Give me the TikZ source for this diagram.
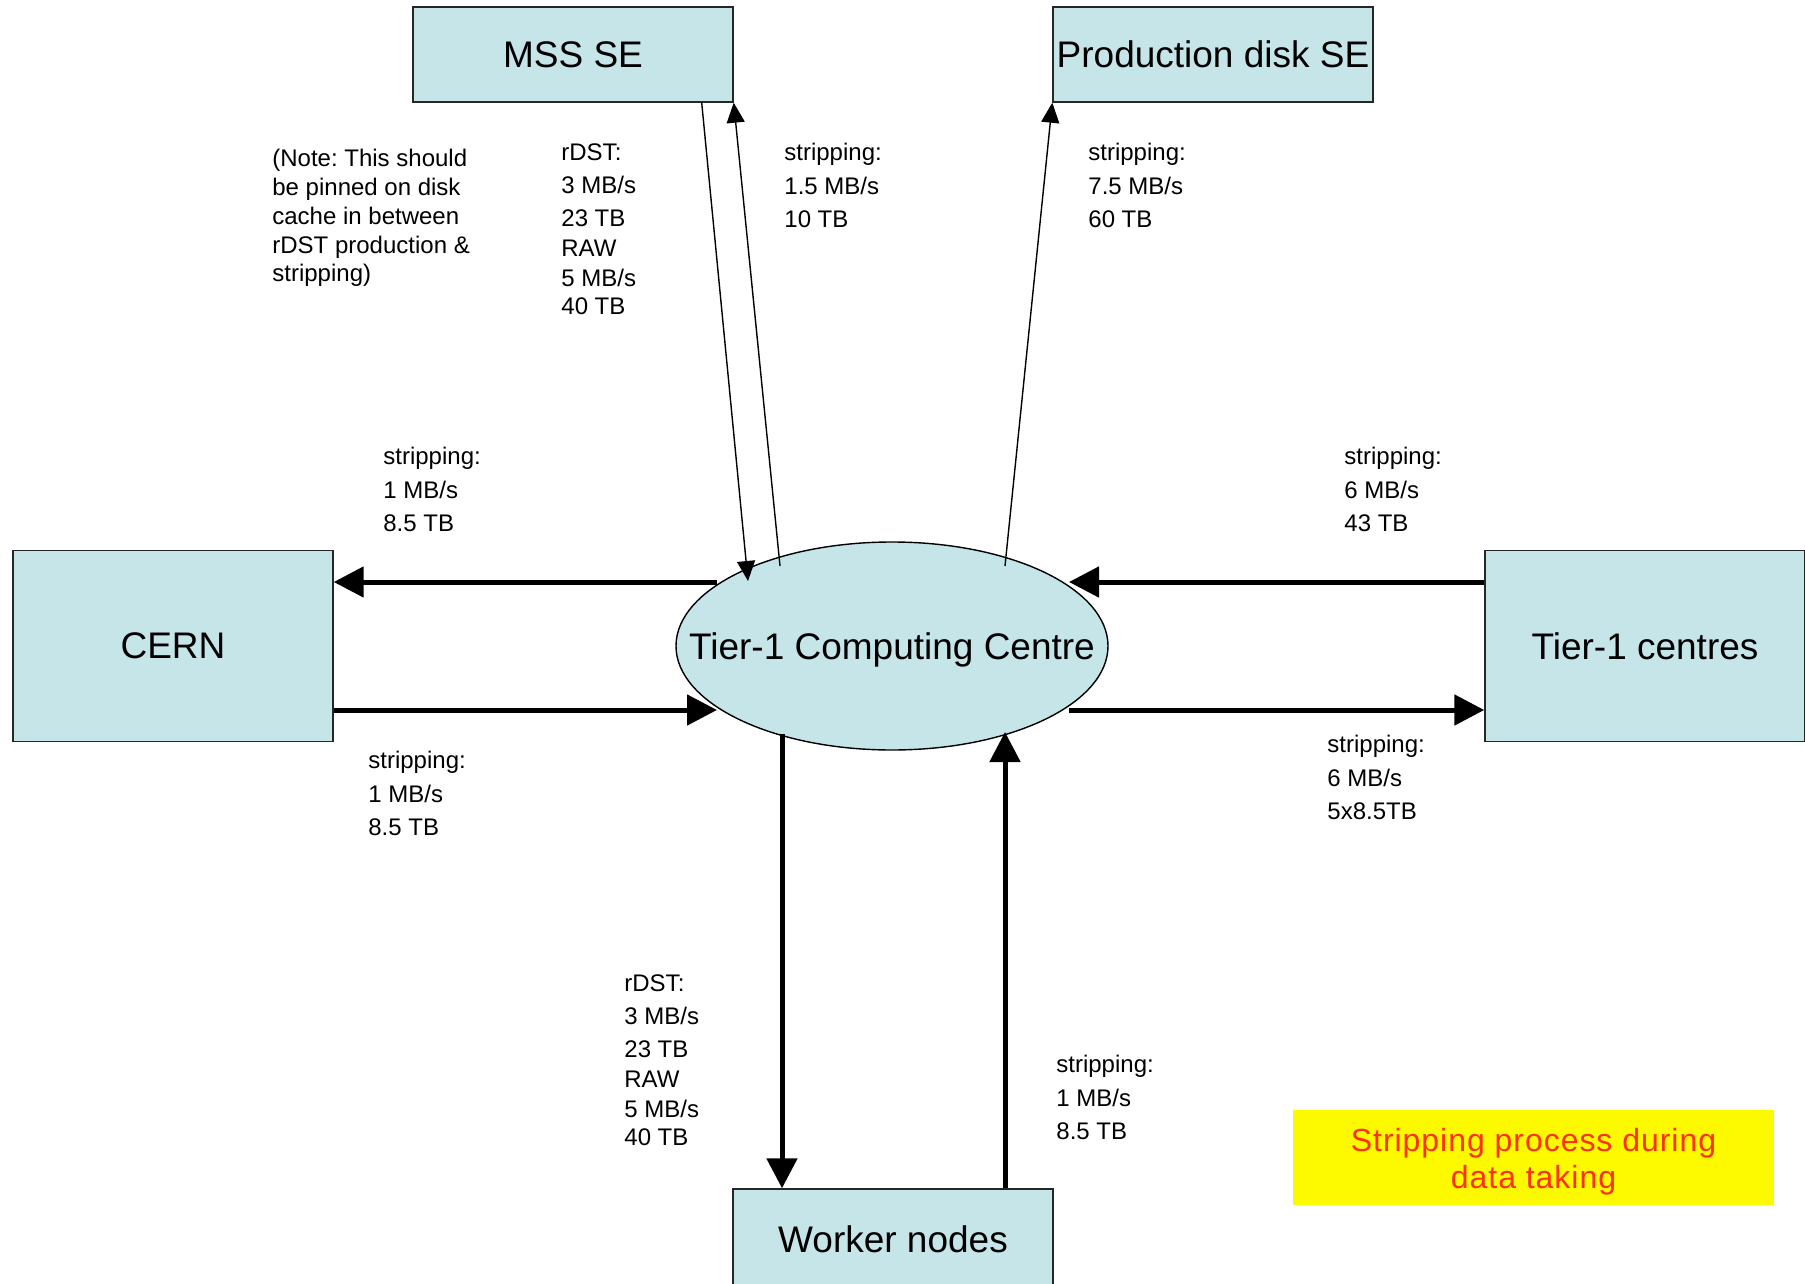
\documentclass[tikz,border=0pt]{standalone}
\usepackage{fontspec}
\setmainfont{Liberation Sans}
\newfontfamily\yfont[LetterSpace=3]{Liberation Sans}
\usetikzlibrary{arrows.meta,calc,shapes.geometric}
\definecolor{boxfill}{RGB}{198,229,233}
\definecolor{yel}{RGB}{253,250,0}
\definecolor{redtxt}{RGB}{252,50,10}
\frenchspacing
\begin{document}
\begin{tikzpicture}[x=0.5pt,y=-0.5pt,
 box/.style={draw=black!85,line width=0.7pt,fill=boxfill,rectangle,minimum width=160pt,minimum height=47.5pt,inner sep=0pt,font=\fontsize{18.5}{22}\selectfont},
 bigbox/.style={box,minimum height=95.5pt},
 ellnode/.style={ellipse,draw=black,line width=0.7pt,fill=boxfill,minimum width=216pt,minimum height=104pt,inner sep=0pt,font=\fontsize{18.5}{22}\selectfont},
 lbl/.style={anchor=north west,inner sep=0pt,align=left,font=\fontsize{12}{16.7}\selectfont},
 notelbl/.style={lbl,font=\fontsize{12}{14.4}\selectfont},
 thk/.style={line width=2.5pt,-{Triangle[length=15pt,width=15pt]}},
 thn/.style={line width=0.7pt,-{Triangle[length=10pt,width=9pt]}},
 banner/.style={fill=yel,minimum width=240.5pt,minimum height=47.5pt,inner sep=0pt,text=redtxt,font=\yfont\fontsize{16}{18.5}\selectfont}
]
\useasboundingbox (0,0) rectangle (1805,1284);

% nodes
\node[box] (mss) at (573,54.5) {MSS SE};
\node[box] (prod) at (1213,54.5) {Production disk SE};
\node[bigbox] (cern) at (173,646) {CERN};
\node[bigbox] (t1) at (1645,646) {Tier-1 centres};
\node[ellnode] (ell) at (892,646) {\makebox[0pt]{\raisebox{-6.5pt}[0pt][0pt]{Tier-1 Computing Centre}}};
\node[box,minimum height=50pt] (wn) at (893,1239) {Worker nodes};
\node[banner] (title) at (1533.5,1157.5) {\raisebox{-2.3pt}[\height][\depth]{\begin{tabular}{@{}c@{}}Stripping process during\\data taking\end{tabular}}};

% labels
\node[notelbl] (note) at (272,149) {(Note: This should\\be pinned on disk\\cache in between\\rDST production \&\\stripping)};
\node[lbl] (mssr) at (561,143) {rDST:\\3 MB/s\\23 TB\\[-1.7pt]RAW\\[-1.7pt]5 MB/s\\[-2.9pt]40 TB};
\node[lbl] (msss) at (784,143) {stripping:\\1.5 MB/s\\10 TB};
\node[lbl] (prods) at (1088,143) {stripping:\\7.5 MB/s\\60 TB};
\node[lbl] (cernu) at (383,447) {stripping:\\1 MB/s\\8.5 TB};
\node[lbl] (t1u) at (1344,447) {stripping:\\6 MB/s\\43 TB};
\node[lbl] (cernl) at (368,751) {stripping:\\1 MB/s\\8.5 TB};
\node[lbl] (t1l) at (1327,735) {stripping:\\6 MB/s\\5x8.5TB};
\node[lbl] (wnr) at (624,974) {rDST:\\3 MB/s\\23 TB\\[-1.7pt]RAW\\[-1.7pt]5 MB/s\\[-2.9pt]40 TB};
\node[lbl] (wns) at (1056,1055) {stripping:\\1 MB/s\\8.5 TB};

% connector end points on the ellipse
\coordinate (eUL) at ($(ell.center)+(-175,-64)$);
\coordinate (eLL) at ($(ell.center)+(-175,64)$);
\coordinate (eUR) at ($(ell.center)+(177,-64)$);
\coordinate (eLR) at ($(ell.center)+(177,64)$);
\coordinate (eBL) at ($(ell.center)+(-110,88)$);
\coordinate (eBR) at ($(ell.center)+(113,86)$);
\coordinate (eM1) at ($(ell.center)+(-144,-65)$);
\coordinate (eM2) at ($(ell.center)+(-112,-80)$);
\coordinate (eP) at ($(ell.center)+(113,-80)$);
\coordinate (mssOut) at ($(mss.south east)+(-32,0)$);

% thick connectors
\draw[thk] (eUL) -- (eUL -| cern.east);
\draw[thk] (cern.east |- eLL) -- (eLL);
\draw[thk] (t1.west |- eUR) -- (eUR);
\draw[thk] (eLR) -- (eLR -| t1.west);
\draw[thk] (eBL) -- (eBL |- wn.north);
\draw[thk] (wn.north -| eBR) -- (eBR);

% thin connectors
\draw[thn] (mssOut) -- (eM1);
\draw[thn] (eM2) -- (mss.south east);
\draw[thn] (eP) -- (prod.south west);
\end{tikzpicture}
\end{document}
